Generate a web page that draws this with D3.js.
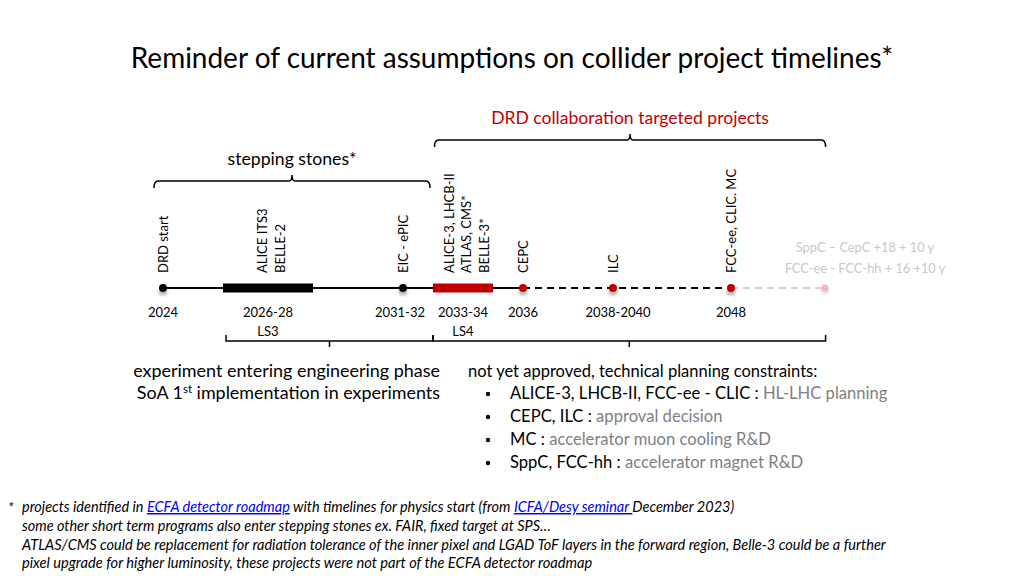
<!DOCTYPE html>
<html><head><meta charset="utf-8">
<script src="https://cdn.jsdelivr.net/npm/d3@7"></script>
<style>
html,body{margin:0;padding:0;background:#fff;}
svg{display:block;font-family:Lato,"Open Sans",sans-serif;}
</style></head>
<body><svg id="c" width="1024" height="576"></svg>
<script>
// ---------- data ----------
const eventLabels = [["DRD start"], ["ALICE ITS3","BELLE-2"], ["EIC - ePIC"], ["ALICE-3, LHCB-II","ATLAS, CMS*","BELLE-3*"], ["CEPC"], ["ILC"], ["FCC-ee, CLIC. MC"]];
const eventStart  = [2024, 2026, 2032, 2033, 2036, 2039, 2048];
const eventEnd    = [2024, 2029, 2032, 2035, 2036, 2039, 2048];
const eventColor  = ["#000", "#000", "#000", "#c00000", "#c00000", "#c00000", "#c00000"];
const yearLabels  = ["2024", "2026-28", "2031-32", "2033-34", "2036", "2038-2040", "2048"];
const shutdownLabels = [{text:"LS3", year:2027.5}, {text:"LS4", year:2034}];
const futureYear = 2064;
const futureLabels = ["SppC \u2013 CepC +18 + 10 y", "FCC-ee - FCC-hh + 16 +10 y"];
const lineSegments = [{from:2024, to:2036, style:"solid"}, {from:2036, to:2048, style:"dash"}, {from:2048, to:2064, style:"faded"}];
const topBraces = [{from:2023.7, to:2032.9, label:"stepping stones*", color:"#000", level:0},
                   {from:2033.05, to:2064.1, label:"DRD collaboration targeted projects", color:"#c00000", level:1}];
const bottomBraces = [{from:2026.1, to:2033}, {from:2033, to:2064.1}];
const leftNotes = ["experiment entering engineering phase"];
const bulletHead = "not yet approved, technical planning constraints:";
const bulletKeys = ["ALICE-3, LHCB-II, FCC-ee - CLIC : ", "CEPC, ILC : ", "MC : ", "SppC, FCC-hh : "];
const bulletVals = ["HL-LHC planning", "approval decision", "accelerator muon cooling R&D", "accelerator magnet R&D"];

const svg = d3.select("#c");
const x = d3.scaleLinear().domain([2024, 2039, 2048, 2064]).range([163, 613, 731, 825]);
const yLine = 288;

// scale font-size so a text spans a given width
function fit(sel, w) {
  const fs = parseFloat(sel.attr("font-size"));
  const len = sel.node().getComputedTextLength();
  if (len > 0) sel.attr("font-size", fs * w / len);
  return sel;
}

const defs = svg.append("defs");
defs.append("filter").attr("id","blur").attr("x","-50%").attr("y","-50%").attr("width","200%").attr("height","200%")
  .append("feGaussianBlur").attr("stdDeviation",1.5);

// title
fit(svg.append("text").attr("x",512).attr("y",68).attr("text-anchor","middle")
  .attr("font-size",26).attr("fill","#000")
  .text("Reminder of current assumptions on collider project timelines*"), 763);

// top braces
const braceTop = [181, 140];
const braceLabelW = [129, 278];
topBraces.forEach(b => {
  const y = braceTop[b.level];
  const x0 = x(b.from), x1 = x(b.to), xm = (x0+x1)/2;
  svg.append("path").attr("fill","none").attr("stroke","#000").attr("stroke-width",1.5)
    .attr("d",`M${x0},${y+7} Q${x0},${y} ${x0+4},${y} L${xm-3},${y} Q${xm},${y} ${xm},${y-6} Q${xm},${y} ${xm+3},${y} L${x1-4},${y} Q${x1},${y} ${x1},${y+7}`);
  fit(svg.append("text").attr("x",xm).attr("y",y-16).attr("text-anchor","middle")
    .attr("font-size",16).attr("fill",b.color).text(b.label), braceLabelW[b.level]);
});

// bottom braces
bottomBraces.forEach(b => {
  const y = 341;
  const x0 = x(b.from), x1 = x(b.to), xm = (x0+x1)/2;
  svg.append("path").attr("fill","none").attr("stroke","#000").attr("stroke-width",1.5)
    .attr("d",`M${x0},${y-6} L${x0},${y} L${x1},${y} L${x1},${y-6} M${xm},${y} L${xm},${y+6}`);
});

// line segments
lineSegments.forEach(s => {
  svg.append("line").attr("x1",x(s.from)).attr("x2",x(s.to)).attr("y1",yLine).attr("y2",yLine)
    .attr("stroke", s.style==="faded" ? "#d8cdd0" : "#000")
    .attr("stroke-width",2)
    .attr("stroke-dasharray", s.style==="solid" ? null : "7,5");
});

// future point
svg.append("ellipse").attr("cx",x(futureYear)).attr("cy",yLine+3).attr("rx",4).attr("ry",3)
  .attr("fill","#e0e0e0").attr("filter","url(#blur)");
svg.append("circle").attr("cx",x(futureYear)).attr("cy",yLine).attr("r",3.5).attr("fill","#f0b8c4");
futureLabels.forEach((t,i) => {
  svg.append("text").attr("x",865).attr("y",252+i*21).attr("text-anchor","middle")
    .attr("font-size",12.8).attr("fill","#c8c8c8").text(t);
});

// events: bars or dots
eventStart.forEach((s,i) => {
  const e = eventEnd[i];
  if (e > s) {
    svg.append("rect").attr("x",x(s)).attr("y",yLine-4.5).attr("width",x(e)-x(s)).attr("height",9)
      .attr("fill",eventColor[i]);
  } else {
    svg.append("ellipse").attr("cx",x(s)).attr("cy",yLine+4).attr("rx",4.5).attr("ry",3.5)
      .attr("fill","#b8b8b8").attr("filter","url(#blur)");
    svg.append("circle").attr("cx",x(s)).attr("cy",yLine).attr("r",4).attr("fill",eventColor[i]);
  }
  const xc = (x(s)+x(e))/2 + (e>s ? 3 : 0);
  const n = eventLabels[i].length;
  eventLabels[i].forEach((t,j) => {
    const xx = xc + (j-(n-1)/2)*17.5;
    svg.append("text").attr("transform",`translate(${xx},273) rotate(-90)`)
      .attr("dominant-baseline","central").attr("font-size",13).attr("fill","#000").text(t);
  });
  const xl = i===2 ? x(s)-3 : (i===5 ? x(s)+5 : (x(s)+x(e))/2);
  svg.append("text").attr("x",xl).attr("y",317).attr("text-anchor","middle")
    .attr("font-size",13).attr("fill","#000").text(yearLabels[i]);
});
shutdownLabels.forEach(d => {
  svg.append("text").attr("x",x(d.year)).attr("y",336).attr("text-anchor","middle")
    .attr("font-size",13).attr("fill","#000").text(d.text);
});

// left notes
fit(svg.append("text").attr("x",440).attr("y",377).attr("text-anchor","end").attr("font-size",17).text(leftNotes[0]), 307);
const soa = svg.append("text").attr("x",440).attr("y",399).attr("text-anchor","end").attr("font-size",17.3);
soa.append("tspan").text("SoA 1");
soa.append("tspan").attr("font-size",11).attr("dy",-6).text("st");
soa.append("tspan").attr("dy",6).text(" implementation in experiments");
fit(soa, 303);
soa.select("tspan:nth-child(2)").attr("font-size", parseFloat(soa.attr("font-size"))*0.64);

// bullets
svg.append("text").attr("x",468).attr("y",377).attr("font-size",16.5).text(bulletHead);
bulletKeys.forEach((k,i) => {
  const y = 399 + i*23;
  svg.append("circle").attr("cx",488).attr("cy",y-5).attr("r",2.2).attr("fill","#000");
  const t = svg.append("text").attr("x",510).attr("y",y).attr("font-size",16.6);
  t.append("tspan").attr("fill","#000").text(k);
  t.append("tspan").attr("fill","#7f7f7f").text(bulletVals[i]);
});

// footnote
const fn = svg.append("g").attr("font-style","italic").attr("fill","#000");
fn.append("text").attr("x",8).attr("y",512).attr("font-size",14).text("*");
const l1 = fn.append("text").attr("x",22).attr("y",512).attr("font-size",13);
l1.append("tspan").text("projects identified in ");
l1.append("tspan").attr("fill","#0000ff").attr("text-decoration","underline").text("ECFA detector roadmap");
l1.append("tspan").text(" with timelines for physics start (from ");
l1.append("tspan").attr("fill","#0000ff").attr("text-decoration","underline").text("ICFA/Desy seminar ");
l1.append("tspan").text("December 2023)");
fit(l1, 713);
fit(fn.append("text").attr("x",22).attr("y",531).attr("font-size",13).text("some other short term programs also enter stepping stones ex. FAIR, fixed target at SPS\u2026"), 529);
fit(fn.append("text").attr("x",22).attr("y",550).attr("font-size",13).text("ATLAS/CMS could be replacement for radiation tolerance of the inner pixel and LGAD ToF layers in the forward region,  Belle-3 could be a further"), 865);
fit(fn.append("text").attr("x",22).attr("y",568).attr("font-size",13).text("pixel upgrade for higher luminosity, these projects were not part of the ECFA detector roadmap"), 571);
</script></body></html>
